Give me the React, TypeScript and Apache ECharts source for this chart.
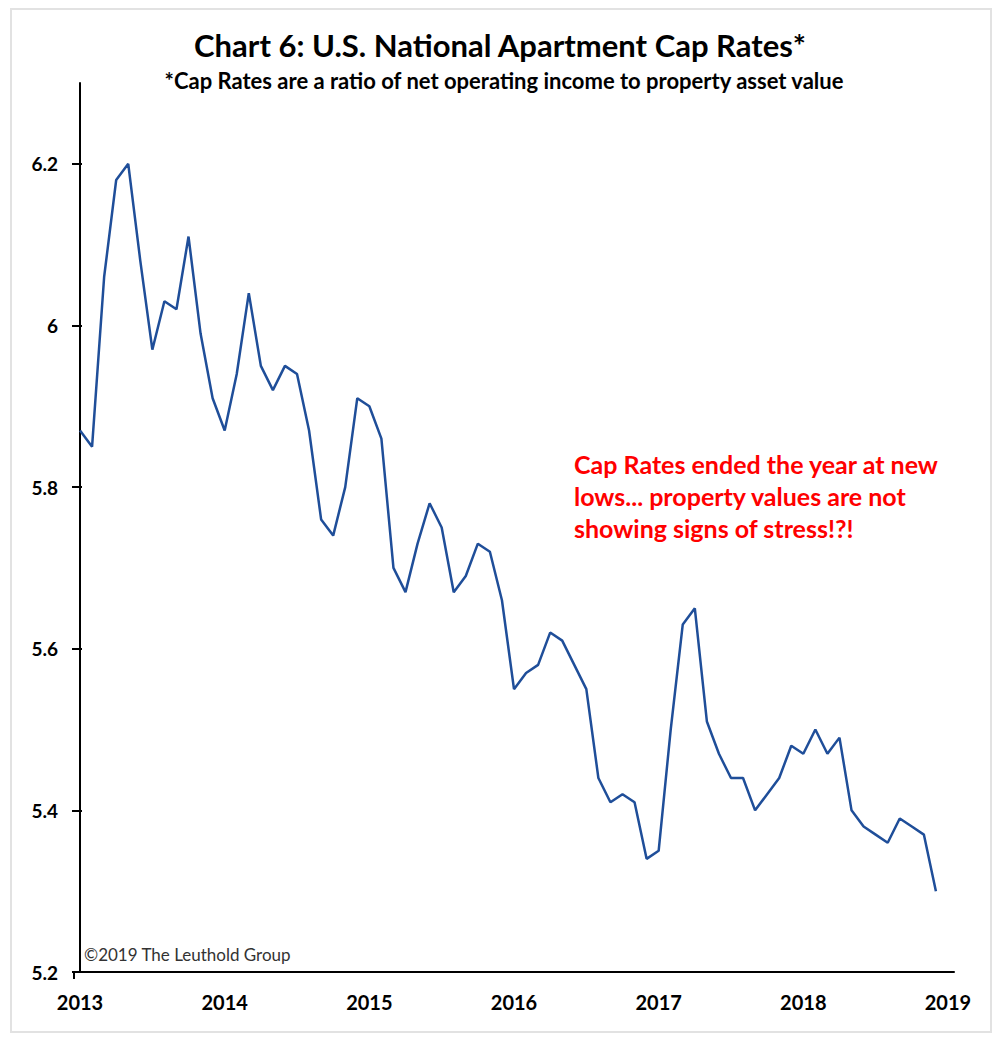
import React, { useEffect, useRef } from "react";
import * as echarts from "echarts";

const titleText = "Chart 6: U.S. National Apartment Cap Rates*";
const subtitleText = "*Cap Rates are a ratio of net operating income to property asset value";
const annotationLines = [
  "Cap Rates ended the year at new",
  "lows... property values are not",
  "showing signs of stress!?!",
];
const copyrightText = "©2019 The Leuthold Group";

const years = ["2013", "2014", "2015", "2016", "2017", "2018", "2019"];
const yearTickMonths = [0, 12, 24, 36, 48, 60, 72];
const yTicks = [5.2, 5.4, 5.6, 5.8, 6.0, 6.2];

// Monthly cap rates, Jan 2013 .. Dec 2018
const capRates = [
  5.87, 5.85, 6.06, 6.18, 6.2, 6.08, 5.97, 6.03, 6.02, 6.11, 5.99, 5.91,
  5.87, 5.94, 6.04, 5.95, 5.92, 5.95, 5.94, 5.87, 5.76, 5.74, 5.8, 5.91,
  5.9, 5.86, 5.7, 5.67, 5.73, 5.78, 5.75, 5.67, 5.69, 5.73, 5.72, 5.66,
  5.55, 5.57, 5.58, 5.62, 5.61, 5.58, 5.55, 5.44, 5.41, 5.42, 5.41, 5.34,
  5.35, 5.5, 5.63, 5.65, 5.51, 5.47, 5.44, 5.44, 5.4, 5.42, 5.44, 5.48,
  5.47, 5.5, 5.47, 5.49, 5.4, 5.38, 5.37, 5.36, 5.39, 5.38, 5.37, 5.3,
];

const FONT = "Lato";

export default function App() {
  const ref = useRef<HTMLDivElement>(null);

  useEffect(() => {
    document.body.style.margin = "0";
    const chart = echarts.init(ref.current!, null, { renderer: "svg" });
    const seriesData = capRates.map((v, i) => [i, v]);

    chart.setOption({
      animation: false,
      backgroundColor: "#ffffff",
      textStyle: { fontFamily: FONT },
      grid: { left: 74, right: 46, top: 83, bottom: 75, containLabel: false },
      xAxis: {
        type: "value",
        min: -0.5,
        max: 72.5,
        splitLine: { show: false },
        axisLine: { show: true, onZero: false, lineStyle: { color: "#000", width: 2 } },
        axisTick: { show: true, customValues: [-0.5], length: 7, lineStyle: { color: "#000", width: 2 } },
        axisLabel: {
          customValues: yearTickMonths,
          formatter: (v: number) => years[Math.round(v / 12)] ?? "",
          color: "#000",
          fontFamily: FONT,
          fontWeight: "bold",
          fontSize: 20,
          margin: 20,
        },
      },
      yAxis: [
        {
          type: "value",
          min: 5.2,
          max: 6.3,
          splitLine: { show: false },
          axisLine: { show: true, lineStyle: { color: "#000", width: 2 } },
          axisTick: { show: true, customValues: yTicks, length: 8, lineStyle: { color: "#000", width: 2 } },
          axisLabel: {
            customValues: yTicks,
            formatter: (v: number) => String(Math.round(v * 10) / 10),
            color: "#000",
            fontFamily: FONT,
            fontWeight: "bold",
            fontSize: 19,
            margin: 16,
          },
        },
        {
          type: "value",
          position: "left",
          min: 5.2,
          max: 6.3,
          splitLine: { show: false },
          axisLine: { show: false },
          axisTick: { show: true, inside: true, customValues: yTicks, length: 8, lineStyle: { color: "#000", width: 2 } },
          axisLabel: { show: false },
        },
      ],
      series: [
        {
          type: "line",
          data: seriesData,
          yAxisIndex: 0,
          showSymbol: false,
          symbol: "none",
          lineStyle: { color: "#1f4e99", width: 2.5 },
        },
      ],
      graphic: [
        {
          type: "rect",
          shape: { x: 11, y: 9, width: 980, height: 1023 },
          style: { fill: "none", stroke: "#e2e2e2", lineWidth: 2 },
          silent: true,
          z: -1,
        },
        {
          type: "text",
          x: 500,
          y: 45,
          style: {
            text: titleText,
            fontFamily: FONT,
            fontWeight: "bold",
            fontSize: 31,
            fill: "#000",
            align: "center",
            verticalAlign: "middle",
          },
        },
        {
          type: "text",
          x: 504,
          y: 80,
          style: {
            text: subtitleText,
            fontFamily: FONT,
            fontWeight: "bold",
            fontSize: 22,
            fill: "#000",
            align: "center",
            verticalAlign: "middle",
          },
        },
        {
          type: "text",
          x: 574,
          y: 448,
          style: {
            text: annotationLines.join("\n"),
            fontFamily: FONT,
            fontWeight: "bold",
            fontSize: 25,
            lineHeight: 32,
            fill: "#ff0000",
            align: "left",
            verticalAlign: "top",
          },
        },
        {
          type: "text",
          x: 84,
          y: 954,
          style: {
            text: copyrightText,
            fontFamily: FONT,
            fontSize: 17,
            fill: "#333",
            align: "left",
            verticalAlign: "middle",
          },
        },
      ],
    });

    return () => chart.dispose();
  }, []);

  return <div ref={ref} style={{ width: 1000, height: 1047 }} />;
}
